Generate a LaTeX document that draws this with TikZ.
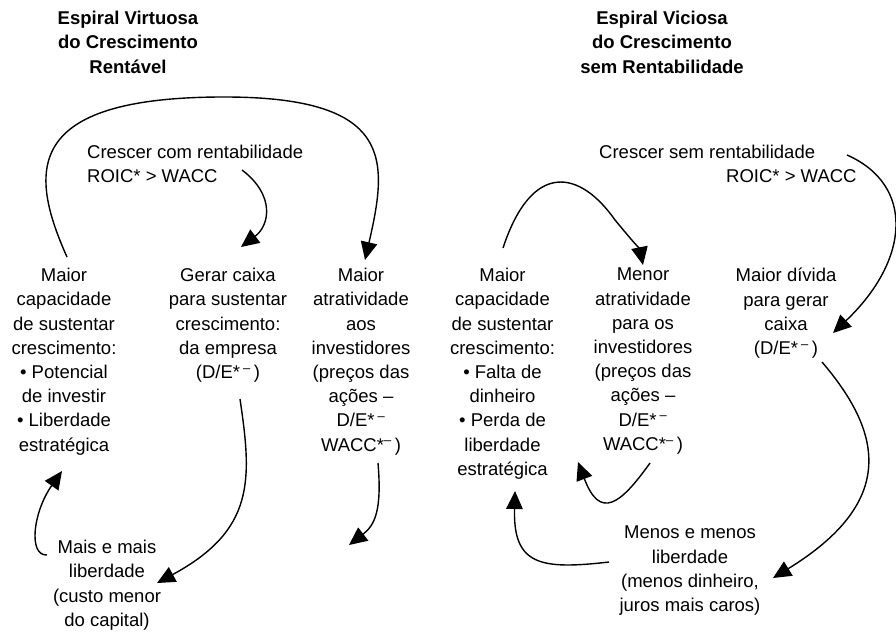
\documentclass[tikz,border=0pt]{standalone}
\usepackage{fontspec}
\setmainfont{Liberation Sans}
\usetikzlibrary{arrows.meta}
\newcommand\txtfont{\fontsize{18.5}{24.2}\selectfont}
\newcommand\sm{\textsuperscript{–}}
\begin{document}
\begin{tikzpicture}[x=1pt,y=-1pt,
  lbl/.style={align=center,inner sep=0pt,anchor=north,font=\txtfont,execute at begin node=\strut},
  ttl/.style={lbl,font=\txtfont\bfseries},
  lft/.style={lbl,align=left,anchor=north west},
  flow/.style={line width=1.4pt,-{Triangle[length=18pt,width=16.5pt]}}]
\useasboundingbox (0,0) rectangle (896,632);

% titles
\node[ttl] (tv) at (128,11) {Espiral Virtuosa\\do Crescimento\\Rentável};
\node[ttl] (tc) at (662,11) {Espiral Viciosa\\do Crescimento\\sem Rentabilidade};

% virtuous spiral
\node[lft] (g1) at (87,145) {Crescer com rentabilidade\\ROIC* > WACC};
\node[lbl] (a1) at (64,268) {Maior\\capacidade\\de sustentar\\crescimento:\\• Potencial\\de investir\\• Liberdade\\estratégica};
\node[lbl] (b1) at (228,268) {Gerar caixa\\para sustentar\\crescimento:\\da empresa\\(D/E*\,\sm\,)};
\node[lbl] (c1) at (361,268) {Maior\\atratividade\\aos\\investidores\\(preços das\\ações –\\D/E*\,\sm\\WACC*\sm\,)};
\node[lbl] (d1) at (107,540) {Mais e mais\\liberdade\\(custo menor\\do capital)};

% vicious spiral
\node[lft] (g2) at (599,145) {Crescer sem rentabilidade\\\hspace*{127pt}ROIC* > WACC};
\node[lbl] (a2) at (502.5,268) {Maior\\capacidade\\de sustentar\\crescimento:\\• Falta de\\dinheiro\\• Perda de\\liberdade\\estratégica};
\node[lbl] (b2) at (643,268) {Menor\\atratividade\\para os\\investidores\\(preços das\\ações –\\D/E*\,\sm\\WACC*\sm\,)};
\node[lbl] (c2) at (786,268) {Maior dívida\\para gerar\\caixa\\(D/E*\,\sm\,)};
\node[lbl] (d2) at (690,526) {Menos e menos\\liberdade\\(menos dinheiro,\\juros mais caros)};

% connector end points
\coordinate (a1t) at (67,257);
\coordinate (c1t) at (365,260);
\coordinate (g1e) at (242,170);
\coordinate (b1t) at (241,247);
\coordinate (b1b) at (240,399);
\coordinate (d1r) at (157,583);
\coordinate (c1b) at (378,463);
\coordinate (c1o) at (349,545);
\coordinate (d1l) at (47,555);
\coordinate (a1b) at (62,471);

\coordinate (a2t) at (503,248);
\coordinate (b2t) at (643,265);
\coordinate (g2e) at (847,155);
\coordinate (c2t) at (833,333);
\coordinate (c2b) at (822,362);
\coordinate (d2r) at (773,578);
\coordinate (b2b) at (650,463);
\coordinate (b2l) at (578,462);
\coordinate (d2l) at (609,562);
\coordinate (a2b) at (515,491);

% virtuous spiral arrows
\draw[flow] (a1t) .. controls (28,170) and (25,98) .. (220,97)
                  .. controls (395,96) and (388,160) .. (c1t);
\draw[flow] (g1e) .. controls (275,195) and (270,225) .. (b1t);
\draw[flow] (b1b) .. controls (252,480) and (255,530) .. (d1r);
\draw[flow] (c1b) .. controls (382,510) and (375,525) .. (c1o);
\draw[flow] (d1l) .. controls (28,556) and (33,512) .. (a1b);

% vicious spiral arrows
\draw[flow] (a2t) .. controls (532,160) and (580,170) .. (615,220)
                  .. controls (630,238) and (640,250) .. (b2t);
\draw[flow] (g2e) .. controls (915,185) and (910,260) .. (c2t);
\draw[flow] (c2b) .. controls (880,430) and (900,500) .. (d2r);
\draw[flow] (b2b) .. controls (620,505) and (600,520) .. (b2l);
\draw[flow] (d2l) .. controls (540,570) and (513,565) .. (a2b);
\end{tikzpicture}
\end{document}
